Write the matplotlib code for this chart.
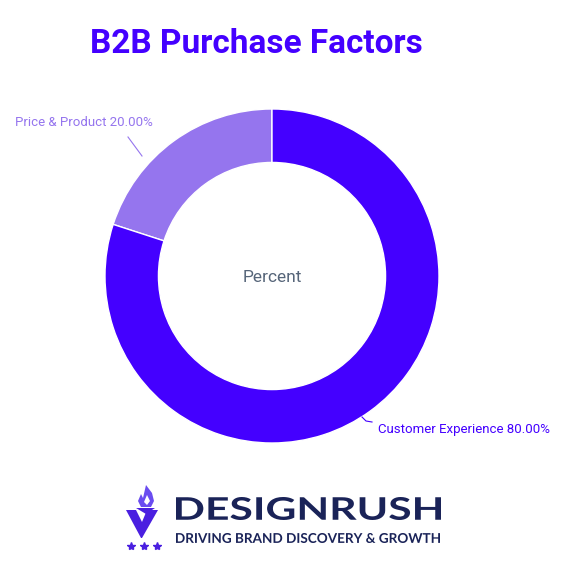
import matplotlib
matplotlib.use("Agg")
import matplotlib.pyplot as plt
from matplotlib.patches import Polygon, PathPatch
from matplotlib.textpath import TextPath
from matplotlib.font_manager import FontProperties
from matplotlib.transforms import Affine2D

# chart data
labels = ["Price & Product", "Customer Experience"]
values = [20.0, 80.0]
colors = ["#9575EE", "#4400FF"]
title = "B2B Purchase Factors"
center_text = "Percent"
brand = "DESIGNRUSH"
tagline = "DRIVING BRAND DISCOVERY & GROWTH"

W, H = 567, 588
fig = plt.figure(figsize=(W / 100, H / 100), dpi=100)
fig.patch.set_facecolor("white")

# donut axes, placed by pixel geometry (center 272,276 / radius 167)
cx, cy, r = 272, 276, 167
ax = fig.add_axes([(cx - r) / W, (H - cy - r) / H, 2 * r / W, 2 * r / H])
wedges, _ = ax.pie(values, colors=colors, startangle=90, counterclock=True,
                   radius=1.0, wedgeprops=dict(width=0.32, edgecolor="white", linewidth=1))
ax.set_xlim(-1, 1)
ax.set_ylim(-1, 1)
ax.set_aspect("equal")
ax.axis("off")

ax.text(0, -0.01, center_text, ha="center", va="center", fontsize=12.5,
        color="#566579", family="Roboto")

def px(x, y):
    # pixel coords -> data coords of the donut axes
    return (x - cx) / r, (cy - y) / r

# leader lines and labels
x0, y0 = px(128, 137)
x1, y1 = px(142, 156)
ax.plot([x0, x1], [y0, y1], color="#9575EE", lw=0.8, clip_on=False)
tx, ty = px(153, 123)
ax.text(tx, ty, f"{labels[0]} {values[0]:.2f}%", ha="right", va="center",
        fontsize=9.5, color=colors[0], family="Roboto")

xs, ys = zip(px(362, 417), px(366, 421), px(372, 422))
ax.plot(xs, ys, color="#4400FF", lw=0.8, clip_on=False)
tx, ty = px(378, 430)
ax.text(tx, ty, f"{labels[1]} {values[1]:.2f}%", ha="left", va="center",
        fontsize=9.5, color=colors[1], family="Roboto")

# title
fig.text(256 / W, 1 - 44 / H, title, ha="center", va="center", fontsize=24,
         fontweight="bold", color="#4400FF", family="Roboto")

# logo
navy = "#1a2358"
logo_purple = "#4a1fe0"

def fit_text(s, x0, x1, ytop, ybot, color):
    # draw text as a path stretched into a pixel box (logo lettering is wide)
    tp = TextPath((0, 0), s, size=20, prop=FontProperties(family="Lato", weight="bold"))
    ext = tp.get_extents()
    t = (Affine2D().translate(-ext.x0, -ext.y0)
         .scale((x1 - x0) / ext.width / W, (ybot - ytop) / ext.height / H)
         .translate(x0 / W, 1 - ybot / H))
    fig.patches.append(PathPatch(tp, facecolor=color, edgecolor="none",
                                 transform=t + fig.transFigure))

fit_text(brand, 176, 441, 497, 520, navy)
fit_text(tagline, 176, 440, 533, 543, navy)

def fpts(pts):
    return [(x / W, 1 - y / H) for x, y in pts]

# V shape
fig.patches.append(Polygon(fpts([(126, 510), (136, 510), (142, 522), (147, 510), (158, 510),
                                 (142, 538), (141, 538)]),
                           closed=True, facecolor=logo_purple, edgecolor="none",
                           transform=fig.transFigure))
fig.patches.append(Polygon(fpts([(136, 508), (155, 508), (146, 514)]),
                           closed=True, facecolor=logo_purple, edgecolor="none",
                           transform=fig.transFigure))
# flame
fig.patches.append(Polygon(fpts([(146, 485), (152, 493), (154, 501), (151, 507), (141, 507),
                                 (138, 501), (141, 494), (143, 498)]),
                           closed=True, facecolor="#6a4cf0", edgecolor="none",
                           transform=fig.transFigure))
fig.patches.append(Polygon(fpts([(147, 495), (150, 501), (147, 505), (144, 502)]),
                           closed=True, facecolor="white", edgecolor="none",
                           transform=fig.transFigure))
# stars
for sx in [131, 144, 157]:
    fig.lines.append(plt.Line2D([sx / W], [1 - 546 / H], marker="*", markersize=6,
                                color=logo_purple, transform=fig.transFigure))

fig.savefig("out.png", dpi=100, facecolor="white")
